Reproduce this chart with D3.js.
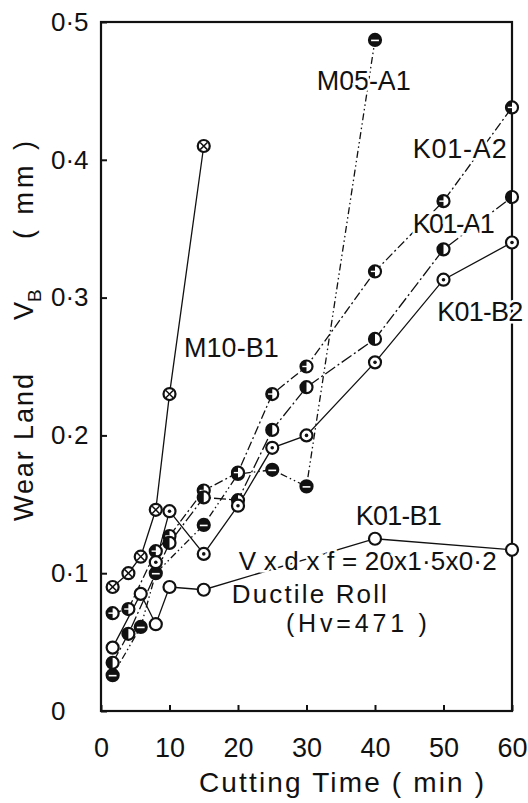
<!DOCTYPE html>
<html>
<head>
<meta charset="utf-8">
<script src="https://cdn.jsdelivr.net/npm/d3@7"></script>
<style>
body { margin: 0; background: #fff; }
text { font-family: "Liberation Sans", Arial, sans-serif; fill: #111; }
</style>
</head>
<body>
<script>
// Cutting time [min] and wear land VB [mm]
let m10b1Time = [1.7, 4, 5.8, 8, 10, 15],
    m10b1Wear = [0.090, 0.100, 0.112, 0.146, 0.230, 0.410];
let m05a1Time = [1.7, 5.8, 8, 15, 20, 25, 30, 40],
    m05a1Wear = [0.026, 0.061, 0.100, 0.135, 0.172, 0.175, 0.163, 0.487];
let k01a2Time = [1.7, 4, 8, 10, 15, 20, 25, 30, 40, 50, 60],
    k01a2Wear = [0.071, 0.074, 0.116, 0.127, 0.160, 0.173, 0.230, 0.250, 0.319, 0.370, 0.438];
let k01a1Time = [1.7, 4, 10, 15, 20, 25, 30, 40, 50, 60],
    k01a1Wear = [0.035, 0.056, 0.122, 0.155, 0.153, 0.204, 0.235, 0.270, 0.335, 0.373];
let k01b2Time = [8, 10, 15, 20, 25, 30, 40, 50, 60],
    k01b2Wear = [0.108, 0.145, 0.114, 0.149, 0.191, 0.200, 0.253, 0.313, 0.340];
let k01b1Time = [1.7, 5.8, 8, 10, 15, 40, 60],
    k01b1Wear = [0.046, 0.085, 0.063, 0.090, 0.088, 0.125, 0.117];

let seriesNames = ["M10-B1", "M05-A1", "K01-A2", "K01-A1", "K01-B2", "K01-B1"];
let xTicks = [0, 10, 20, 30, 40, 50, 60];
let yTicks = [0, 0.1, 0.2, 0.3, 0.4, 0.5];
let yTickLabels = ["0", "0·1", "0·2", "0·3", "0·4", "0·5"];

// line style + marker kind per series
let series = [
    {name: seriesNames[0], t: m10b1Time, v: m10b1Wear, dash: null, marker: "cross"},
    {name: seriesNames[1], t: m05a1Time, v: m05a1Wear, dash: "7,3,1.5,3,1.5,3", marker: "bar"},
    {name: seriesNames[2], t: k01a2Time, v: k01a2Wear, dash: "9,3,2,3", marker: "vline"},
    {name: seriesNames[3], t: k01a1Time, v: k01a1Wear, dash: "12,3,2,3", marker: "half"},
    {name: seriesNames[4], t: k01b2Time, v: k01b2Wear, dash: null, marker: "dot"},
    {name: seriesNames[5], t: k01b1Time, v: k01b1Wear, dash: null, marker: "open"}
];

// label anchors in data units [min, mm] (left edge / baseline)
let labels = [
    {text: seriesNames[0], t: 12.1, v: 0.257, len: 95, size: 27},
    {text: seriesNames[1], t: 31.5, v: 0.451, len: 94, size: 27},
    {text: seriesNames[2], t: 45.5, v: 0.401, len: 94, size: 27},
    {text: seriesNames[3], t: 45.5, v: 0.347, len: 82, size: 27},
    {text: seriesNames[4], t: 49.1, v: 0.283, len: 86, size: 27},
    {text: seriesNames[5], t: 37.2, v: 0.135, len: 86, size: 27},
    {text: "V x d x f = 20x1·5x0·2", t: 20.1, v: 0.102, len: 258, size: 26},
    {text: "Ductile Roll", t: 19.1, v: 0.0785, len: 155, size: 26},
    {text: "(Hv=471  )", t: 27.0, v: 0.0575, len: 141, size: 25}
];

let width = 528, height = 803;
let r = 6;

let svg = d3.select("body").append("svg")
    .attr("width", width)
    .attr("height", height);

let xScale = d3.scaleLinear().domain([0, 60]).range([101, 512]);
let yScale = d3.scaleLinear().domain([0, 0.5]).range([711, 22]);

// frame
svg.append("rect")
    .attr("x", xScale(0))
    .attr("y", yScale(0.5))
    .attr("width", xScale(60) - xScale(0))
    .attr("height", yScale(0) - yScale(0.5))
    .attr("fill", "none")
    .attr("stroke", "#111")
    .attr("stroke-width", 2.2);

// x axis, ticks point inward
let xAxis = d3.axisBottom(xScale).tickValues(xTicks).tickSize(-6).tickPadding(27);
svg.append("g")
    .attr("transform", `translate(0,${yScale(0)})`)
    .call(xAxis)
    .call(g => g.select(".domain").remove())
    .call(g => g.selectAll(".tick line").attr("stroke", "#111").attr("stroke-width", 2))
    .call(g => g.selectAll(".tick text")
        .attr("font-family", null).attr("fill", "#111")
        .style("font-size", "27px"));

// y axis
let yAxis = d3.axisLeft(yScale).tickValues(yTicks).tickSize(-6)
    .tickFormat((d, i) => yTickLabels[i]);
svg.append("g")
    .attr("transform", `translate(${xScale(0)},0)`)
    .call(yAxis)
    .call(g => g.select(".domain").remove())
    .call(g => g.selectAll(".tick line").attr("stroke", "#111").attr("stroke-width", 2))
    .call(g => g.selectAll(".tick text")
        .attr("font-family", null).attr("fill", "#111")
        .attr("text-anchor", "start")
        .attr("x", 51 - xScale(0))
        .style("font-size", "26px"));

// lines
let line = d3.line()
    .x(d => xScale(d[0]))
    .y(d => yScale(d[1]));

let linesG = svg.append("g");
series.forEach(s => {
    linesG.append("path")
        .datum(s.t.map((t, i) => [t, s.v[i]]))
        .attr("d", line)
        .attr("fill", "none")
        .attr("stroke", "#111")
        .attr("stroke-width", 1.3)
        .attr("stroke-dasharray", s.dash);
});

// markers
function drawMarker(g, kind) {
    let blackFill = kind === "bar";
    g.append("circle")
        .attr("r", r)
        .attr("fill", blackFill ? "#111" : "#fff")
        .attr("stroke", "#111")
        .attr("stroke-width", 2.2);
    if (kind === "cross") {
        let k = r * 0.6;
        g.append("path")
            .attr("d", `M${-k},${-k}L${k},${k}M${-k},${k}L${k},${-k}`)
            .attr("stroke", "#111").attr("stroke-width", 1.5);
    } else if (kind === "dot") {
        g.append("circle").attr("r", 1.8).attr("fill", "#111");
    } else if (kind === "bar") {
        g.append("path")
            .attr("d", `M${-r * 0.65},0.5L${r * 0.65},0.5`)
            .attr("stroke", "#fff").attr("stroke-width", 1.6);
    } else if (kind === "half") {
        g.append("path")
            .attr("d", `M0,${-r}A${r},${r} 0 0 0 0,${r}Z`)
            .attr("fill", "#111");
    } else if (kind === "vline") {
        g.append("path")
            .attr("d", `M0,${-r}A${r},${r} 0 0 0 0,${r}Z`)
            .attr("fill", "#111");
        g.append("path")
            .attr("d", `M${-r * 0.7},0L${r * 0.7},0`)
            .attr("stroke", "#fff").attr("stroke-width", 1.4);
    }
}

let marksG = svg.append("g");
series.forEach(s => {
    s.t.forEach((t, i) => {
        let g = marksG.append("g")
            .attr("transform", `translate(${xScale(t)},${yScale(s.v[i])})`);
        drawMarker(g, s.marker);
    });
});

// series labels and annotations, white halo hides lines behind them
svg.append("g")
    .selectAll("text")
    .data(labels)
    .join("text")
    .attr("x", d => xScale(d.t))
    .attr("y", d => yScale(d.v))
    .attr("textLength", d => d.len)
    .attr("lengthAdjust", "spacing")
    .style("font-size", d => d.size + "px")
    .attr("stroke", "#fff")
    .attr("stroke-width", 5)
    .attr("paint-order", "stroke")
    .text(d => d.text);

// axis titles
svg.append("text")
    .attr("x", 199)
    .attr("y", 792)
    .attr("textLength", 285)
    .attr("lengthAdjust", "spacing")
    .style("font-size", "28px")
    .text("Cutting Time ( min )");

let yTitle = svg.append("g");
yTitle.append("text")
    .attr("transform", "translate(33,521) rotate(-90)")
    .attr("textLength", 147)
    .attr("lengthAdjust", "spacing")
    .style("font-size", "27px")
    .text("Wear Land");
let vb = yTitle.append("text")
    .attr("transform", "translate(33,320) rotate(-90)")
    .style("font-size", "27px");
vb.append("tspan").text("V");
vb.append("tspan").attr("dy", 8).style("font-size", "19px").text("B");
yTitle.append("text")
    .attr("transform", "translate(33,239) rotate(-90)")
    .attr("textLength", 98)
    .attr("lengthAdjust", "spacing")
    .style("font-size", "27px")
    .text("( mm )");
</script>
</body>
</html>
